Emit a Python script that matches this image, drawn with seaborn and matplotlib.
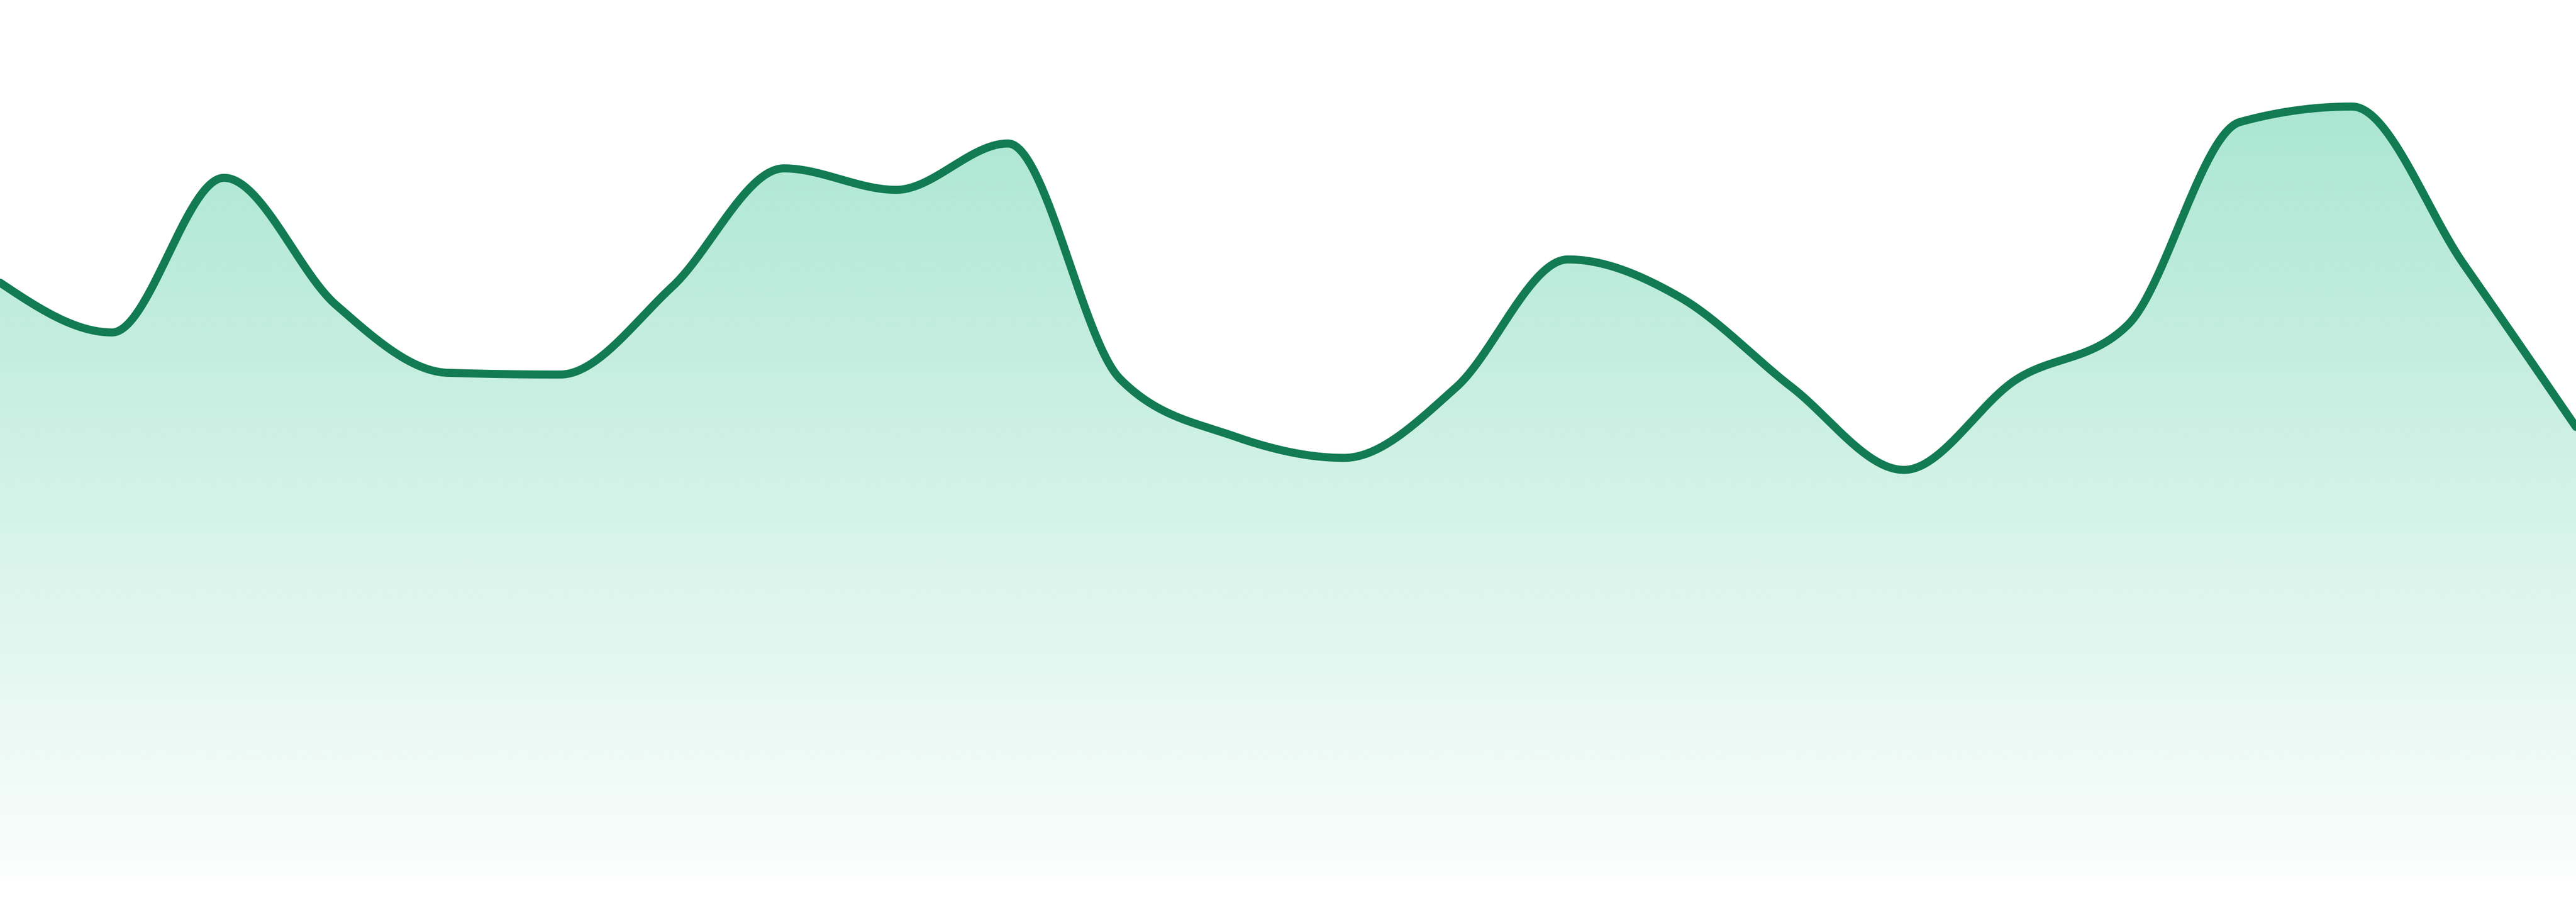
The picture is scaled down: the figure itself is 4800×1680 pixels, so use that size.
import numpy as np
import pandas as pd
import matplotlib
matplotlib.use("Agg")
import matplotlib.pyplot as plt
import seaborn as sns

# ---- data ----
points = list(range(24))
values = [69.1, 63.3, 81.3, 66.5, 58.6, 58.4, 68.6, 82.4, 79.9, 85.3, 57.9, 51.3,
          48.7, 56.9, 71.8, 67.4, 56.9, 47.3, 57.8, 64.2, 87.8, 89.6, 71.2, 52.3]

LINE_COLOR = "#127b53"
FILL_RGB = (16 / 255, 185 / 255, 129 / 255)


def monotone_x(xs, ys, n_per=60):
    """d3.curveMonotoneX style interpolation."""
    xs = np.asarray(xs, float)
    ys = np.asarray(ys, float)
    n = len(xs)
    h = np.diff(xs)
    s = np.diff(ys) / h
    t = np.zeros(n)
    for i in range(1, n - 1):
        h0, h1 = h[i - 1], h[i]
        s0, s1 = s[i - 1], s[i]
        p = (s0 * h1 + s1 * h0) / (h0 + h1)
        sg = (-1 if s0 < 0 else 1) + (-1 if s1 < 0 else 1)
        t[i] = sg * min(abs(s0), abs(s1), 0.5 * abs(p))
    t[0] = (3 * s[0] - t[1]) / 2
    t[-1] = (3 * s[-1] - t[-2]) / 2
    out_x, out_y = [], []
    for i in range(n - 1):
        u = np.linspace(0, 1, n_per, endpoint=(i == n - 2))
        dx = h[i]
        h00 = 2 * u**3 - 3 * u**2 + 1
        h10 = u**3 - 2 * u**2 + u
        h01 = -2 * u**3 + 3 * u**2
        h11 = u**3 - u**2
        out_x.append(xs[i] + u * dx)
        out_y.append(h00 * ys[i] + h10 * dx * t[i] + h01 * ys[i + 1] + h11 * dx * t[i + 1])
    return np.concatenate(out_x), np.concatenate(out_y)


sx, sy = monotone_x(points, values)
df = pd.DataFrame({"x": sx, "y": sy})

sns.set_theme(style="white")
fig = plt.figure(figsize=(16, 5.6), dpi=300)
ax = fig.add_axes([0, 0, 1, 1])
YMIN, YMAX = -3, 102
ax.set_xlim(0, 23)
ax.set_ylim(YMIN, YMAX)

# gradient fill clipped to the area under the curve
poly = ax.fill_between(df["x"], df["y"], 0, color="none", lw=0)
grad_n = 512
alpha = np.linspace(0.40, 0.02, grad_n)[:, None]
img = np.zeros((grad_n, 2, 4))
img[..., 0] = FILL_RGB[0]
img[..., 1] = FILL_RGB[1]
img[..., 2] = FILL_RGB[2]
img[..., 3] = alpha
im = ax.imshow(img, extent=[0, 23, 0, YMAX], origin="upper", aspect="auto",
               interpolation="bilinear", zorder=1)
clip = poly.get_paths()[0]
im.set_clip_path(clip, transform=ax.transData)

sns.lineplot(data=df, x="x", y="y", ax=ax, color=LINE_COLOR, linewidth=3.6,
             sort=False, estimator=None, zorder=3)

ax.set_xlim(0, 23)
ax.set_ylim(YMIN, YMAX)
ax.axis("off")
fig.savefig("out.png", dpi=300, facecolor="white")
